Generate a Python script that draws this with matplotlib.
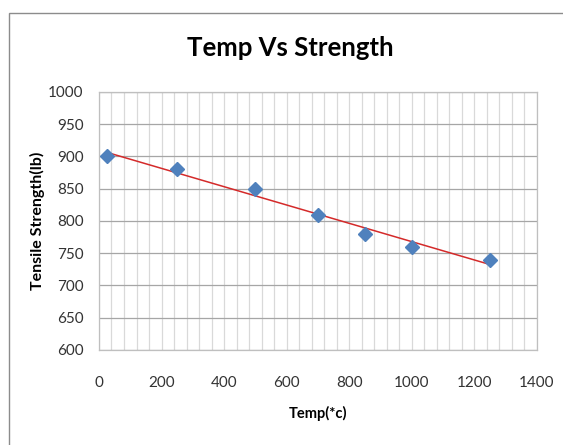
import numpy as np
import matplotlib.pyplot as plt
from matplotlib.patches import Rectangle

# data
temp = [25, 250, 500, 700, 850, 1000, 1250]
strength = [900, 880, 850, 810, 780, 760, 740]
x_ticks = [0, 200, 400, 600, 800, 1000, 1200, 1400]
y_ticks = [600, 650, 700, 750, 800, 850, 900, 950, 1000]

plt.rcParams['font.family'] = ['Lato', 'DejaVu Sans']

fig = plt.figure(figsize=(5.63, 4.45), dpi=100)
ax = fig.add_axes([0.1758, 0.2135, 0.778, 0.5798])

# chart border (cut off at right and bottom, like the screenshot)
fig.patches.append(Rectangle((9 / 563, -0.1), 1.2, 1.1 - 13 / 445,
                             transform=fig.transFigure, fill=False,
                             edgecolor='#8c8c8c', linewidth=1.0))

# minor vertical grid every 40, horizontal grid every 50
for xv in np.arange(0, 1401, 40):
    ax.axvline(xv, color='#d9d9d9', linewidth=0.9, zorder=0)
for yv in y_ticks:
    ax.axhline(yv, color='#a6a6a6', linewidth=0.9, zorder=0)

# linear trendline
k, b = np.polyfit(temp, strength, 1)
xt = np.array([temp[0], temp[-1]])
ax.plot(xt, k * xt + b, color='#d42a2a', linewidth=1.1, zorder=2)

ax.plot(temp, strength, linestyle='none', marker='D', markersize=7.5,
        color='#4f81bd', zorder=3, clip_on=False)

ax.set_xlim(0, 1400)
ax.set_ylim(600, 1000)
ax.set_xticks(x_ticks)
ax.set_yticks(y_ticks)
ax.tick_params(length=0, labelsize=11, colors='#333333')
ax.tick_params(axis='x', pad=19)
ax.tick_params(axis='y', pad=11)
for s in ax.spines.values():
    s.set_color('#bfbfbf')
    s.set_linewidth(0.9)

ax.set_xlabel('Temp(*c)', fontsize=10.5, fontweight='bold', labelpad=11)
ax.set_ylabel('Tensile Strength(lb)', fontsize=11.5, fontweight='bold', labelpad=2)
fig.text(0.515, 0.893, 'Temp Vs Strength', ha='center', va='center',
         fontsize=18.5, fontweight='bold')

fig.savefig('out.png', dpi=100)
